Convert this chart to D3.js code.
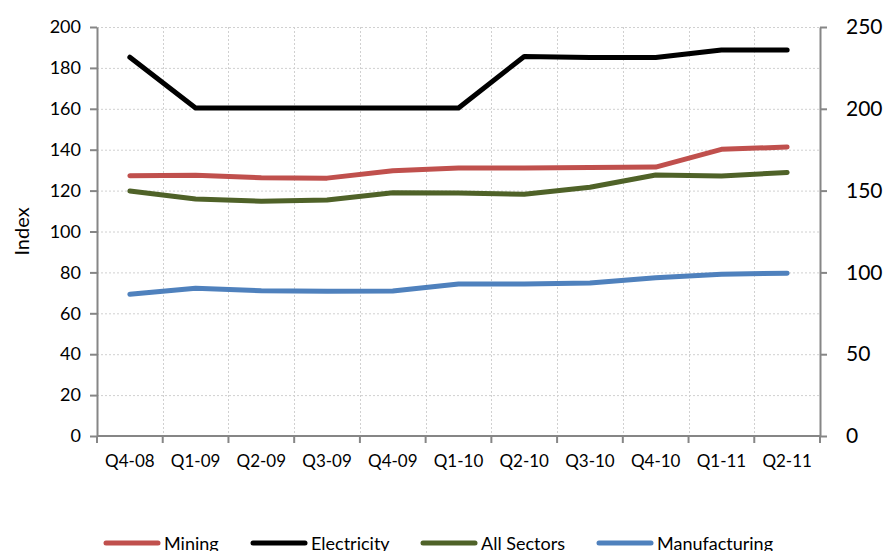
<!DOCTYPE html>
<html>
<head>
<meta charset="utf-8">
<script src="https://cdn.jsdelivr.net/npm/d3@7"></script>
<style>
  body { margin: 0; background: #fff; }
  text { font-family: Lato, "Open Sans", sans-serif; fill: #000; }
</style>
</head>
<body>
<div id="chart"></div>
<script>
// quarters on the x axis
const quarters = ['Q4-08', 'Q1-09', 'Q2-09', 'Q3-09', 'Q4-09', 'Q1-10', 'Q2-10', 'Q3-10', 'Q4-10', 'Q1-11', 'Q2-11'];

// left axis series
const mining = [127.3, 127.5, 126.3, 126.1, 129.7, 131.0, 131.0, 131.3, 131.5, 140.2, 141.3];
const allSectors = [119.8, 115.9, 114.8, 115.4, 119.0, 118.8, 118.2, 121.6, 127.6, 127.1, 128.9];
const manufacturing = [69.3, 72.2, 71.0, 70.8, 70.9, 74.3, 74.3, 74.8, 77.4, 79.1, 79.6];
// right axis series
const electricity = [231.5, 200.5, 200.5, 200.5, 200.5, 200.5, 232.0, 231.3, 231.3, 236.0, 236.0];

const leftTicks = [0, 20, 40, 60, 80, 100, 120, 140, 160, 180, 200];
const rightTicks = [0, 50, 100, 150, 200, 250];

const width = 888, height = 551;
const margin = { top: 27, right: 68, bottom: 115, left: 97 };

const svg = d3.select('#chart').append('svg')
    .attr('width', width)
    .attr('height', height);

const x = d3.scaleBand()
    .domain(quarters)
    .range([margin.left, width - margin.right]);

const yL = d3.scaleLinear().domain([0, 200]).range([height - margin.bottom, margin.top]);
const yR = d3.scaleLinear().domain([0, 250]).range([height - margin.bottom, margin.top]);

// grid lines
const grid = svg.append('g');
grid.selectAll('line.h').data(leftTicks.slice(1)).enter().append('line')
    .attr('x1', margin.left).attr('x2', width - margin.right)
    .attr('y1', d => yL(d) + 0.5).attr('y2', d => yL(d) + 0.5)
    .attr('stroke', '#d0d0d0').attr('stroke-dasharray', '2,2');
grid.selectAll('line.v').data(quarters.slice(1)).enter().append('line')
    .attr('x1', d => Math.round(x(d)) + 0.5).attr('x2', d => Math.round(x(d)) + 0.5)
    .attr('y1', margin.top).attr('y2', height - margin.bottom)
    .attr('stroke', '#d0d0d0').attr('stroke-dasharray', '2,2');

const axisColor = '#868686';

function styleAxis(g) {
    g.selectAll('.domain').attr('stroke', axisColor).attr('stroke-width', 2);
    g.selectAll('.tick line').attr('stroke', axisColor).attr('stroke-width', 2);
}

// left axis
svg.append('g')
    .attr('transform', `translate(${margin.left},0)`)
    .call(d3.axisLeft(yL).tickValues(leftTicks).tickSize(7).tickSizeOuter(0).tickPadding(9))
    .call(styleAxis)
    .call(g => g.selectAll('.tick text').style('font-size', '18px'));

// right axis
svg.append('g')
    .attr('transform', `translate(${width - margin.right},0)`)
    .call(d3.axisRight(yR).tickValues(rightTicks).tickSize(7).tickSizeOuter(0).tickPadding(19))
    .call(styleAxis)
    .call(g => g.selectAll('.tick text').style('font-size', '21px'));

// bottom axis: ticks at band boundaries
const bx = svg.append('g')
    .attr('transform', `translate(0,${height - margin.bottom})`)
    .call(d3.axisBottom(x).tickSize(0).tickPadding(19))
    .call(styleAxis)
    .call(g => g.selectAll('.tick text').style('font-size', '17px'));
bx.select('.domain').attr('d', `M${margin.left},0H${width - margin.right}`);
bx.selectAll('line.bt').data(quarters.concat(['end'])).enter().append('line')
    .attr('x1', (d, i) => margin.left + i * x.step())
    .attr('x2', (d, i) => margin.left + i * x.step())
    .attr('y1', 0).attr('y2', 7)
    .attr('stroke', axisColor).attr('stroke-width', 2);

// y label
svg.append('text')
    .attr('transform', `translate(29,${(margin.top + height - margin.bottom) / 2}) rotate(-90)`)
    .attr('text-anchor', 'middle')
    .style('font-size', '20px')
    .text('Index');

const series = [
    { name: 'Mining', values: mining, color: '#C0504D', y: yL },
    { name: 'Electricity', values: electricity, color: '#000000', y: yR },
    { name: 'All Sectors', values: allSectors, color: '#4F6228', y: yL },
    { name: 'Manufacturing', values: manufacturing, color: '#4F81BD', y: yL }
];

const cx = d => x(d) + x.bandwidth() / 2;

series.forEach(s => {
    const line = d3.line()
        .x((d, i) => cx(quarters[i]))
        .y(d => s.y(d));
    svg.append('path')
        .datum(s.values)
        .attr('fill', 'none')
        .attr('stroke', s.color)
        .attr('stroke-width', 5)
        .attr('stroke-linejoin', 'round')
        .attr('stroke-linecap', 'round')
        .attr('d', line);
});

// legend
const legendX = [106, 253, 423, 599];
const legend = svg.append('g').attr('transform', 'translate(0,543)');
series.forEach((s, i) => {
    legend.append('line')
        .attr('x1', legendX[i]).attr('x2', legendX[i] + 52)
        .attr('y1', 0).attr('y2', 0)
        .attr('stroke', s.color).attr('stroke-width', 5)
        .attr('stroke-linecap', 'round');
    legend.append('text')
        .attr('x', legendX[i] + 58)
        .attr('y', 7)
        .style('font-size', '18px')
        .text(s.name);
});
</script>
</body>
</html>
